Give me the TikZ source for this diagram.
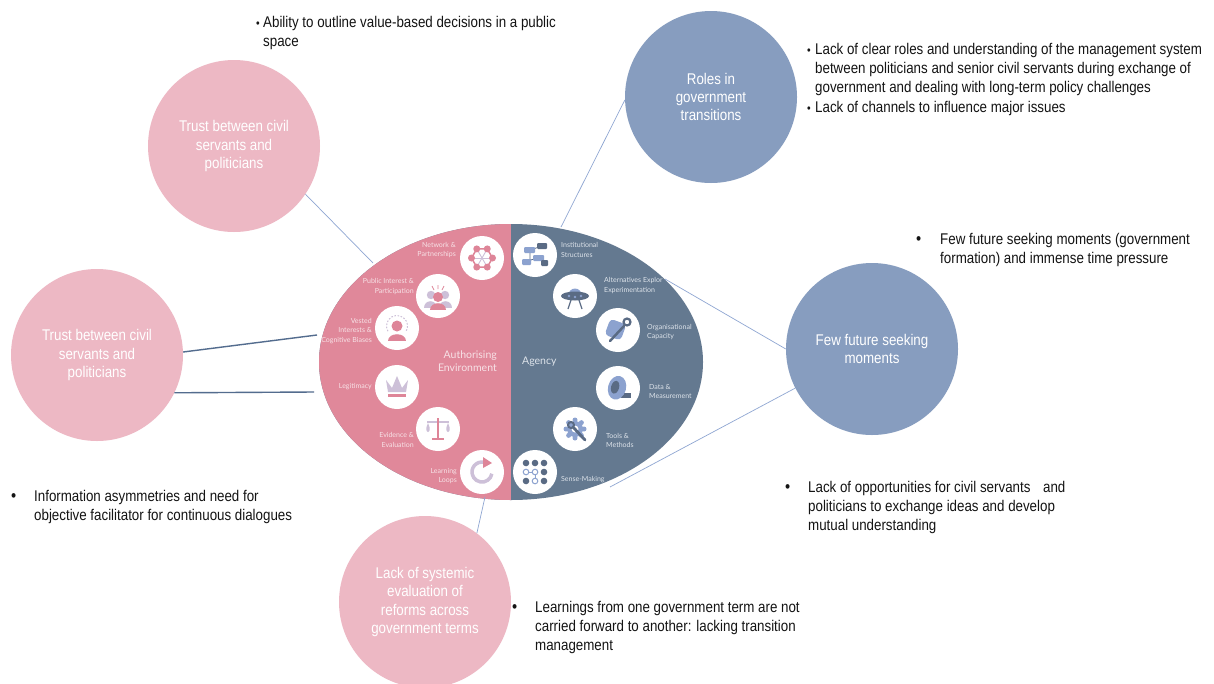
\documentclass[tikz,border=0pt]{standalone}
\usepackage{fontspec}
\setmainfont{Liberation Sans}[FakeStretch=0.86]
\newfontfamily\lato{Lato}
\usetikzlibrary{shapes.geometric}
\definecolor{pinkE}{HTML}{E0889A}
\definecolor{slateE}{HTML}{647990}
\definecolor{circP}{HTML}{EDB8C4}
\definecolor{circB}{HTML}{879DBF}
\definecolor{icoL}{HTML}{CDC0D8}
\definecolor{icoP}{HTML}{DE8598}
\definecolor{icoB}{HTML}{8CA2CF}
\definecolor{icoD}{HTML}{5A6B84}
\definecolor{lineL}{HTML}{8FA6D2}
\definecolor{lineD}{HTML}{536C8E}
\definecolor{labP}{HTML}{F7E1E6}
\definecolor{labS}{HTML}{DDE3EA}
\tikzset{
  big/.style={circle, minimum size=172pt, inner sep=0pt, text=white, align=center,
    font=\fontsize{15.5}{18.3}\selectfont},
  pinkcirc/.style={big, fill=circP},
  bluecirc/.style={big, fill=circB},
  body/.style={anchor=base west, inner sep=0pt, font=\fontsize{15.5}{19.2}\selectfont, text=black!92},
  bul/.style={anchor=base west, inner sep=0pt, font=\fontsize{17}{19}\selectfont, text=black!92},
  icon/.style={circle, fill=white, minimum size=44pt, inner sep=0pt},
  labl/.style={font=\lato\fontsize{7}{9.8}\selectfont, text=labP, align=right, anchor=east, inner sep=0pt},
  labr/.style={font=\lato\fontsize{7}{9.8}\selectfont, text=labS, align=left, anchor=west, inner sep=0pt},
  core/.style={ellipse, minimum width=384pt, minimum height=276pt, inner sep=0pt, fill=slateE,
    path picture={
      \fill[pinkE] ([xshift=-2pt,yshift=-2pt]path picture bounding box.south west) rectangle ([yshift=2pt]path picture bounding box.north);
    }},
  thinc/.style={draw=lineL, line width=0.7pt},
  thickc/.style={draw=lineD, line width=1.4pt}
}
\begin{document}
\begin{tikzpicture}[x=1pt,y=-1pt]
\useasboundingbox[fill=white] (0,0) rectangle (1214,683);

% central ellipse
\node[core] (core) at (511,362) {};

% ---- left icons
\node[icon] (i1) at (482,258) {};
\begin{scope}[shift={(482,258)}]
  \foreach \a in {0,60,...,300} \draw[icoL, line width=0.9pt] (0,0) -- (\a:10.5);
  \draw[icoP, line width=1.5pt] (0:10.5)--(60:10.5)--(120:10.5)--(180:10.5)--(240:10.5)--(300:10.5)--cycle;
  \foreach \a in {0,60,...,300} \fill[icoP] (\a:10.5) circle (3.5);
\end{scope}
\node[icon] (i2) at (438,296) {};
\begin{scope}[shift={(438,296)}]
  \fill[icoL] (-7,-1) circle (4.2) (7,-1) circle (4.2);
  \fill[icoL] (-14,12) .. controls (-14,3) and (-1,3) .. (-1,12) -- cycle;
  \fill[icoL] (1,12) .. controls (1,3) and (14,3) .. (14,12) -- cycle;
  \fill[icoP] (0,1) circle (5);
  \fill[icoP] (-8,14) .. controls (-8,5) and (8,5) .. (8,14) -- cycle;
  \draw[icoP, line width=0.8pt] (0,-7)--(0,-11) (-4,-6)--(-6,-10) (4,-6)--(6,-10);
\end{scope}
\node[icon] (i3) at (397,328) {};
\begin{scope}[shift={(397,328)}]
  \draw[icoL, line width=1pt, dash pattern=on 1.6pt off 1.6pt] ([shift={(0,-2)}]150:10.5) arc (150:390:10.5);
  \fill[icoP] (0,-2) circle (5.5);
  \fill[icoP] (-9,13) .. controls (-9,4) and (9,4) .. (9,13) -- cycle;
\end{scope}
\node[icon] (i4) at (397,387) {};
\begin{scope}[shift={(397,387)}]
  \fill[icoL] (-11,-7) -- (-5,1) -- (0,-11) -- (5,1) -- (11,-7) -- (9,5) -- (-9,5) -- cycle;
  \fill[icoP] (-9,6.5) rectangle (9,10);
\end{scope}
\node[icon] (i5) at (438,429) {};
\begin{scope}[shift={(438,429)}]
  \draw[icoL, line width=1.2pt] (-11,-7)--(11,-7);
  \draw[icoP, line width=1.5pt] (0,-11)--(0,9);
  \draw[icoP, line width=2pt] (-6,10)--(6,10);
  \fill[icoL] (-10,-6) .. controls (-16,6) and (-4,6) .. (-10,-6);
  \fill[icoL] (10,-6) .. controls (4,6) and (16,6) .. (10,-6);
\end{scope}
\node[icon] (i6) at (482,472) {};
\begin{scope}[shift={(482,472)}]
  \draw[icoL, line width=3.5pt] (10:10) arc (10:285:10);
  \fill[icoP] (1,-15) -- (10,-9) -- (1,-4) -- cycle;
\end{scope}

% ---- right icons
\node[icon] (j1) at (535,255) {};
\begin{scope}[shift={(535,255)}]
  \draw[icoD, line width=0.8pt] (-5,-5)--(-5,6) (-5,-5)--(7,-9) (3,3)--(9,7) (-8,6)--(3,3);
  \fill[icoD, rounded corners=1pt] (2,-12) rectangle (12,-6);
  \fill[icoB, rounded corners=1pt] (-11,-8) rectangle (0,-2);
  \fill[icoB, rounded corners=1pt] (-2,0) rectangle (9,6);
  \fill[icoB, rounded corners=1pt] (-13,4) rectangle (-4,10);
  \fill[icoD, rounded corners=1pt] (6,5) rectangle (13,11);
\end{scope}
\node[icon] (j2) at (575,296) {};
\begin{scope}[shift={(575,296)}]
  \fill[icoB] (-6.5,-1) arc (180:360:6.5) -- cycle;
  \fill[icoD] (0,0) ellipse (14 and 4.5);
  \fill[icoB] (-6,0) circle (1.3) (0,1) circle (1.3) (6,0) circle (1.3);
  \draw[icoD, line width=1.2pt] (-4,4)--(-7,13) (4,4)--(7,13);
\end{scope}
\node[icon] (j3) at (618,330) {};
\begin{scope}[shift={(618,330)}]
  \fill[icoB, rounded corners=4pt, rotate=-20] (-11,-8) rectangle (6,9);
  \draw[icoD, line width=2.5pt, line cap=round] (-8,11)--(6,-4);
  \draw[icoD, line width=2.2pt] (9,-8) circle (3.5);
\end{scope}
\node[icon] (j4) at (618,388) {};
\begin{scope}[shift={(618,388)}]
  \fill[icoD] (3,5) rectangle (13,10);
  \fill[icoB, rotate=-15] (-1,0) ellipse (9 and 12);
  \fill[icoD, rotate=-15] (-3,0) ellipse (4 and 6.5);
\end{scope}
\node[icon] (j5) at (575,429) {};
\begin{scope}[shift={(575,429)}]
  \foreach \a in {0,45,...,315} \fill[icoB] (\a:9) circle (2.5);
  \fill[icoB] (0,0) circle (8);
  \fill[white] (0,0) circle (3.5);
  \draw[icoD, line width=2.8pt, line cap=round] (-2,-2)--(10,11);
  \draw[icoD, line width=2pt] (-4,-4) circle (3);
\end{scope}
\node[icon] (j6) at (535,472) {};
\begin{scope}[shift={(535,472)}]
  \draw[icoB, line width=0.9pt] (-9,0)--(0,0)--(0,9);
  \fill[icoD] (-9,-9) circle (3.3) (0,-9) circle (3.3) (9,-9) circle (3.3)
              (9,0) circle (3.3) (-9,9) circle (3.3) (9,9) circle (3.3);
  \draw[icoB, line width=1pt, fill=white] (-9,0) circle (2.8) (0,0) circle (2.8) (0,9) circle (2.8);
\end{scope}

% ---- labels in the ellipse
\node[labl] (l1) at (456,250) {Network \&\\Partnerships};
\node[labl] (l2) at (414,286.5) {Public Interest \&\\Participation};
\node[labl] (l3) at (372,331) {Vested\\Interests \&\\Cognitive Biases};
\node[labl] (l4) at (372,387) {Legitimacy};
\node[labl] (l5) at (414,440) {Evidence \&\\Evaluation};
\node[labl] (l6) at (457,476) {Learning\\Loops};
\node[labl, font=\lato\fontsize{10.5}{13}\selectfont] (l7) at (497,361.5) {Authorising\\Environment};
\node[labr] (r1) at (561,250) {Institutional\\Structures};
\node[labr] (r2) at (604,285.5) {Alternatives Explor\\Experimentation};
\node[labr] (r3) at (647,332) {Organisational\\Capacity};
\node[labr] (r4) at (649,391.5) {Data \&\\Measurement};
\node[labr] (r5) at (606,440.5) {Tools \&\\Methods};
\node[labr] (r6) at (561,480) {Sense-Making};
\node[labr, font=\lato\fontsize{10.5}{13}\selectfont] (r7) at (522,362) {Agency};

% ---- outer circles
\node[pinkcirc] (tl) at (234,146) {Trust between civil\\servants and\\politicians};
\node[pinkcirc] (lc) at (97,355) {Trust between civil\\servants and\\politicians};
\node[bluecirc] (rc) at (711,97) {Roles in\\government\\transitions};
\node[bluecirc] (fc) at (872,349) {Few future seeking\\moments};
\node[pinkcirc] (bc) at (425,602) {Lack of systemic\\evaluation of\\reforms across\\government terms};

% ---- connectors
\coordinate (e1) at (373,263);
\coordinate (e2) at (317,335);
\coordinate (e3) at (314,392);
\coordinate (e4) at (561,227);
\coordinate (e5) at (665,279);
\coordinate (e6) at (610,487);
\coordinate (e7) at (485,497);
\draw[thinc] (tl.-34) -- (e1);
\draw[thickc] (lc.2) -- (e2);
\draw[thickc] (lc.-26) -- (e3);
\draw[thinc] (rc.182) -- (e4);
\draw[thinc] (fc.180) -- (e5);
\draw[thinc] (fc.207) -- (e6);
\draw[thinc] (bc.53) -- (e7);

% ---- bullet texts
\node[bul, font=\fontsize{12}{19}\selectfont] (bA) at (256,27) {\textbullet};
\node[body] (tA) at (263,27) {\begin{tabular}[t]{@{}l@{}}Ability to outline value-based decisions in a public\\space\end{tabular}};
\node[bul, font=\fontsize{12}{19}\selectfont] (bB1) at (807,54) {\textbullet};
\node[body] (tB1) at (815,54) {\begin{tabular}[t]{@{}l@{}}Lack of clear roles and understanding of the management system\\between politicians and senior civil servants during exchange of\\government and dealing with long-term policy challenges\end{tabular}};
\node[bul, font=\fontsize{12}{19}\selectfont] (bB2) at (807,112) {\textbullet};
\node[body] (tB2) at (815,112) {Lack of channels to influence major issues};
\node[bul] (bC) at (916,244) {\textbullet};
\node[body] (tC) at (940,244) {\begin{tabular}[t]{@{}l@{}}Few future seeking moments (government\\formation) and immense time pressure\end{tabular}};
\node[bul] (bD) at (785,492) {\textbullet};
\node[body] (tD) at (808,492) {\begin{tabular}[t]{@{}l@{}}Lack of opportunities for civil servants\hspace{9pt} and\\politicians to exchange ideas and develop\\mutual understanding\end{tabular}};
\node[bul] (bE) at (512,612) {\textbullet};
\node[body] (tE) at (535,612) {\begin{tabular}[t]{@{}l@{}}Learnings from one government term are not\\carried forward to another: lacking transition\\management\end{tabular}};
\node[bul] (bF) at (11,501) {\textbullet};
\node[body] (tF) at (34,501) {\begin{tabular}[t]{@{}l@{}}Information asymmetries and need for\\objective facilitator for continuous dialogues\end{tabular}};
\end{tikzpicture}
\end{document}
